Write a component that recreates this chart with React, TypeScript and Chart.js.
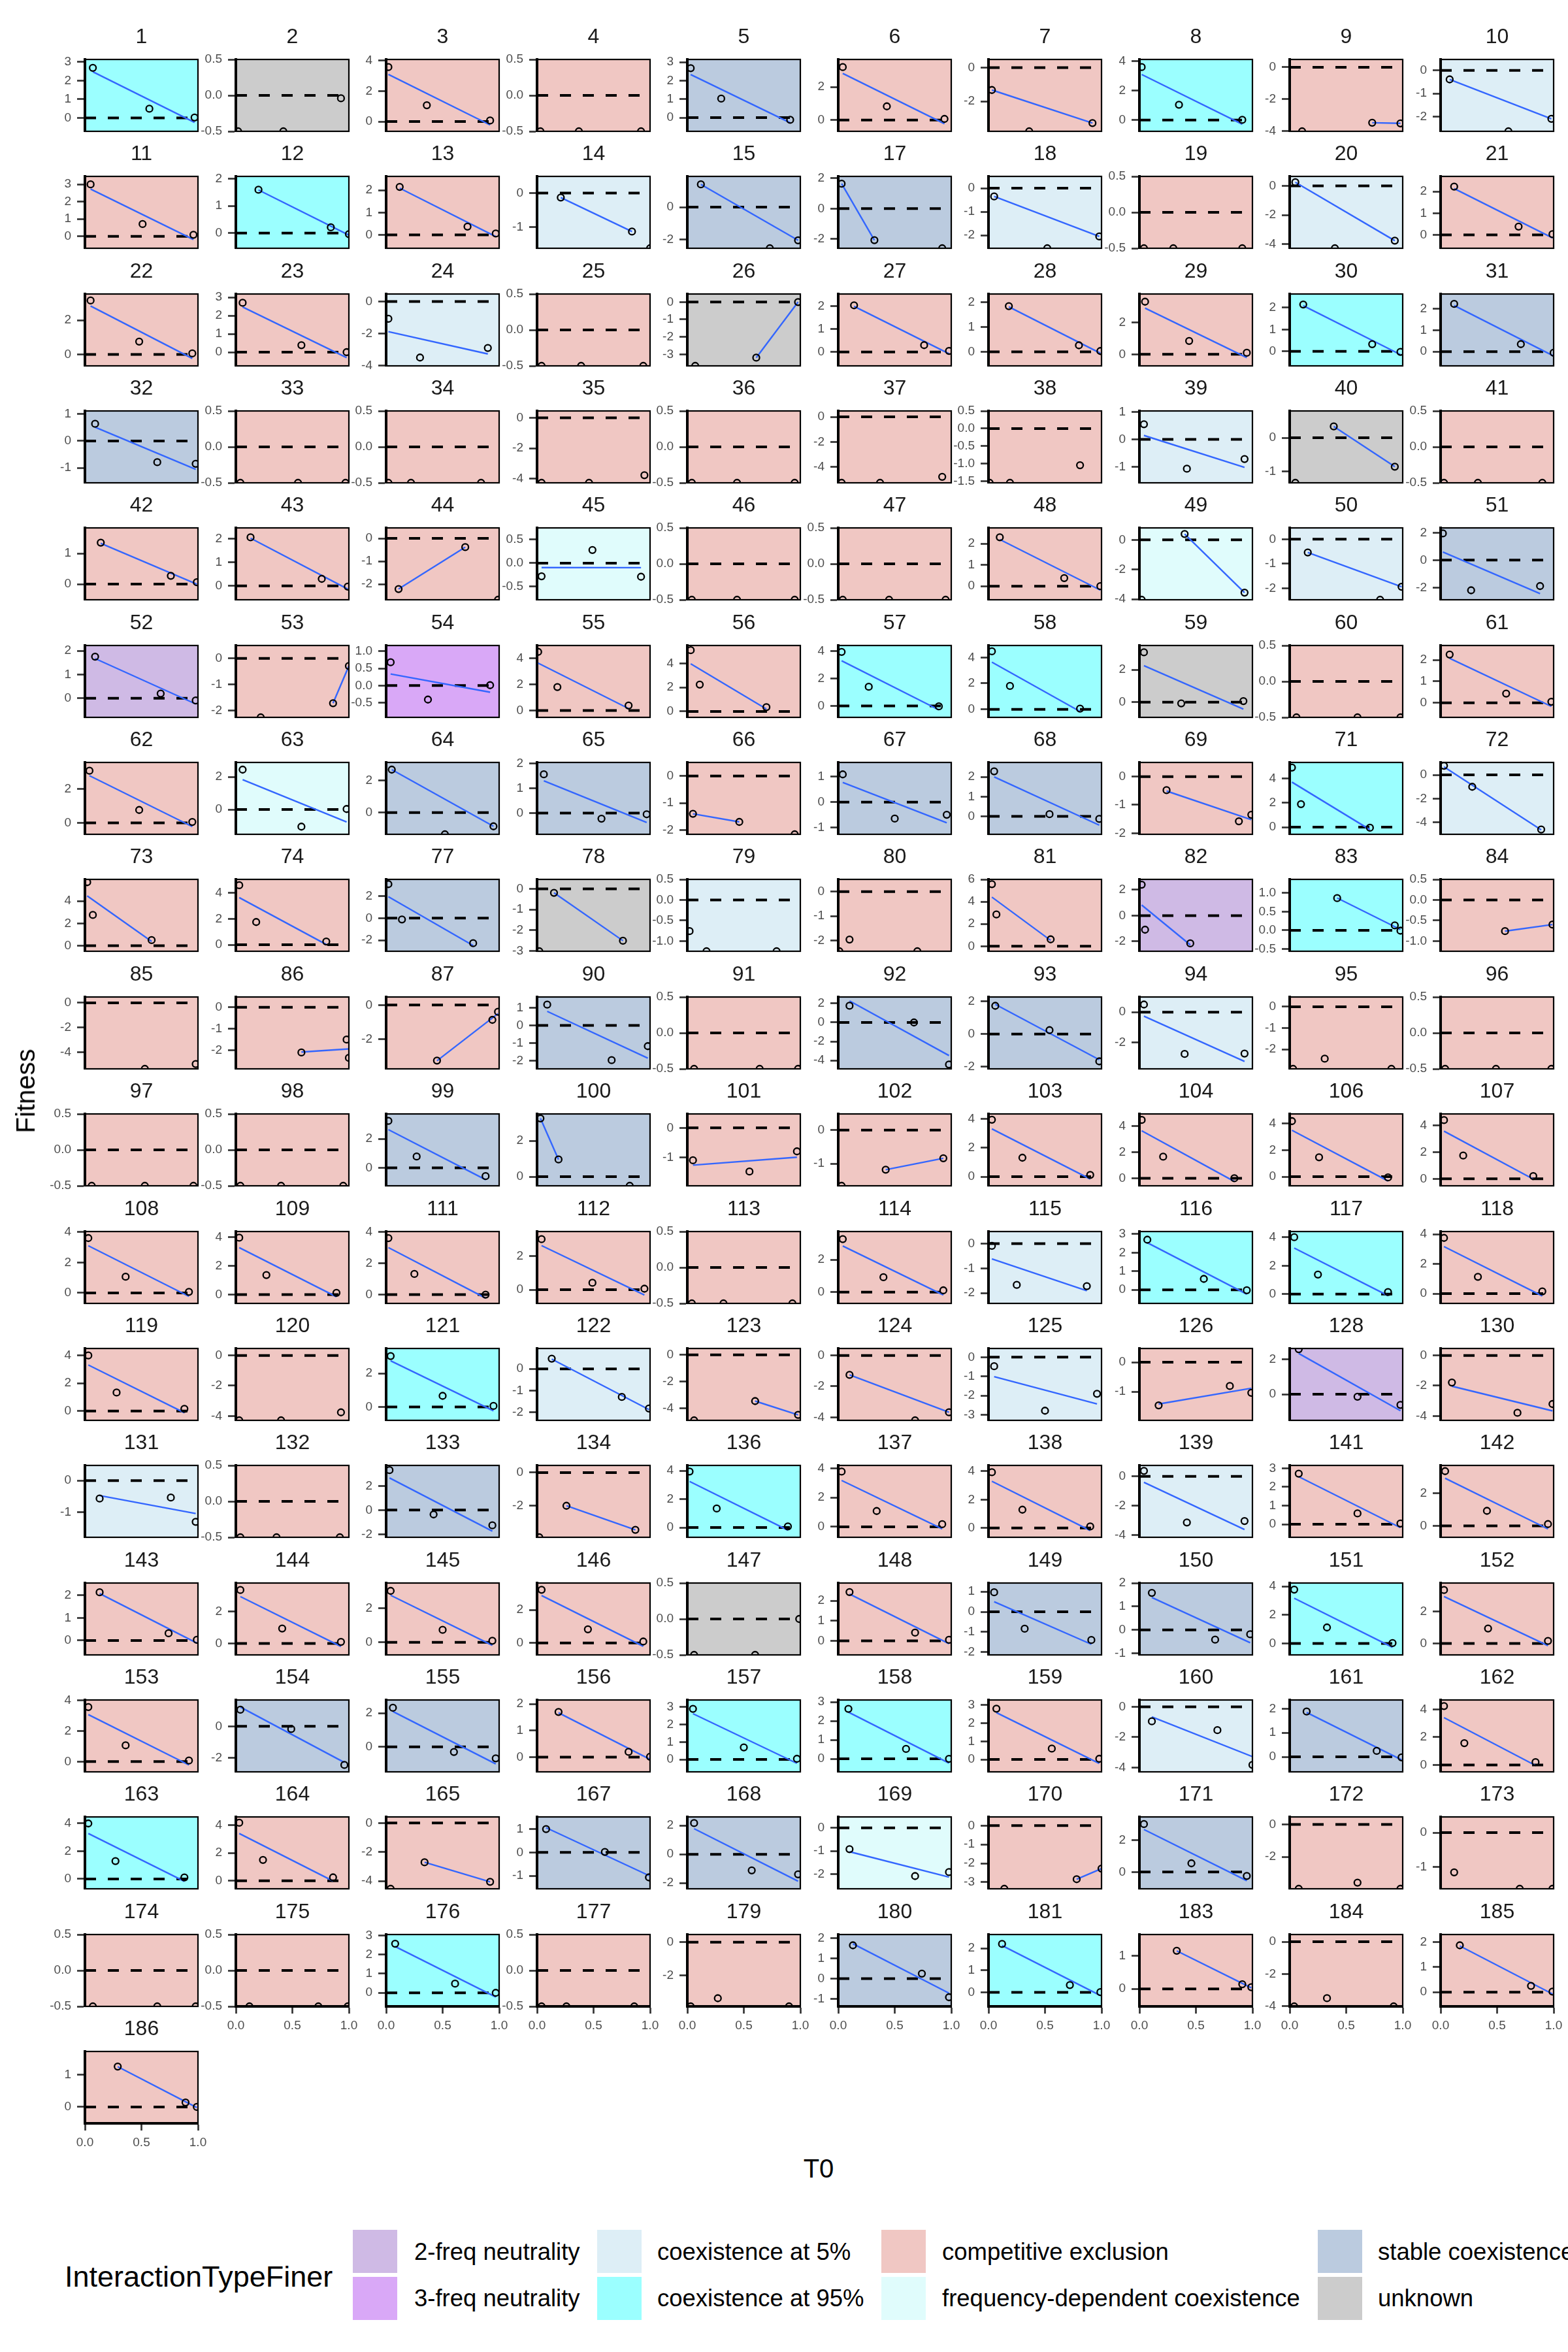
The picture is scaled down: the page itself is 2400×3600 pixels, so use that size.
import React, { useEffect, useRef } from "react";
import { Chart, registerables } from "chart.js";

Chart.register(...registerables);

const FONT = '"Liberation Sans", Arial, Helvetica, sans-serif';
Chart.defaults.font.family = FONT;

// ---------- interaction types ----------
const typeCodes = "ABCDEFGH";
const typeNames = [
  "2-freq neutrality",
  "3-freq neutrality",
  "coexistence at 5%",
  "coexistence at 95%",
  "competitive exclusion",
  "frequency-dependent coexistence",
  "stable coexistence",
  "unknown",
];
const typeColors = [
  "#CFBAE5",
  "#D9A8F7",
  "#DDEEF6",
  "#9BFFFF",
  "#F0C7C3",
  "#E0FCFC",
  "#BBCBDF",
  "#CCCCCC",
];

// ---------- panels ----------
const panelIds = [
  1, 2, 3, 4, 5, 6, 7, 8, 9, 10,
  11, 12, 13, 14, 15, 17, 18, 19, 20, 21,
  22, 23, 24, 25, 26, 27, 28, 29, 30, 31,
  32, 33, 34, 35, 36, 37, 38, 39, 40, 41,
  42, 43, 44, 45, 46, 47, 48, 49, 50, 51,
  52, 53, 54, 55, 56, 57, 58, 59, 60, 61,
  62, 63, 64, 65, 66, 67, 68, 69, 71, 72,
  73, 74, 77, 78, 79, 80, 81, 82, 83, 84,
  85, 86, 87, 90, 91, 92, 93, 94, 95, 96,
  97, 98, 99, 100, 101, 102, 103, 104, 106, 107,
  108, 109, 111, 112, 113, 114, 115, 116, 117, 118,
  119, 120, 121, 122, 123, 124, 125, 126, 128, 130,
  131, 132, 133, 134, 136, 137, 138, 139, 141, 142,
  143, 144, 145, 146, 147, 148, 149, 150, 151, 152,
  153, 154, 155, 156, 157, 158, 159, 160, 161, 162,
  163, 164, 165, 167, 168, 169, 170, 171, 172, 173,
  174, 175, 176, 177, 179, 180, 181, 183, 184, 185,
  186,
];

const panelTypes =
  "DHEEGEEDEC" + "EDECGGCECE" + "EECEHEEEDG" + "GEEEEEECHE" + "EEEFEEEFCG" +
  "AEBEEDDHEE" + "EFGGEGGEDC" + "EEGHCEEADE" + "EEEGEGGCEE" + "EEGGEEEEEE" +
  "EEEEEECDDE" + "EEDCEECEAE" + "CEGEDEECEE" + "EEEEHEGGDE" + "EGGEDDECGE" +
  "DEEGGFEGEE" + "EEDEEGDEEE" + "E";

const yMin = [
  -0.72, -0.5, -0.64, -0.5, -0.74, -0.68, -3.78, -0.77, -4.02, -2.63,
  -0.69, -0.56, -0.6, -1.62, -2.53, -2.6, -2.55, -0.5, -4.27, -0.62,
  -0.67, -0.75, -4.02, -0.5, -3.66, -0.6, -0.57, -0.72, -0.66, -0.66,
  -1.56, -0.5, -0.5, -4.26, -0.5, -5.26, -1.54, -1.57, -1.34, -0.5,
  -0.51, -0.59, -2.68, -0.78, -0.5, -0.5, -0.64, -4.04, -2.47, -2.89,
  -0.8, -2.25, -0.93, -0.53, -0.49, -0.83, -0.62, -0.93, -0.5, -0.68,
  -0.68, -1.52, -1.36, -0.86, -2.16, -1.27, -0.91, -2.04, -0.59, -5.0,
  -0.5, -0.5, -3.0, -3.02, -1.25, -2.44, -0.45, -2.76, -0.56, -1.25,
  -5.32, -2.86, -3.71, -2.45, -0.5, -4.88, -2.13, -3.77, -2.92, -0.5,
  -0.5, -0.5, -1.24, -0.51, -1.95, -1.66, -0.63, -0.58, -0.68, -0.52,
  -0.69, -0.61, -0.56, -0.81, -0.5, -0.7, -2.42, -0.73, -0.65, -0.66,
  -0.67, -4.29, -0.8, -2.38, -4.9, -4.2, -3.28, -1.98, -1.5, -4.29,
  -1.8, -0.5, -2.25, -3.9, -0.69, -0.72, -0.65, -4.15, -0.7, -0.7,
  -0.64, -0.72, -0.74, -0.72, -0.5, -0.7, -2.14, -1.07, -0.8, -0.72,
  -0.67, -2.9, -1.48, -0.55, -0.71, -0.69, -0.68, -4.29, -0.62, -0.5,
  -0.71, -0.58, -4.54, -1.56, -2.4, -2.63, -3.35, -1.06, -3.97, -1.64,
  -0.5, -0.5, -0.71, -0.5, -3.86, -1.36, -0.64, -0.53, -4.02, -0.57,
  -0.51,
];

const yMax = [
  3.13, 0.5, 4.07, 0.5, 3.15, 3.66, 0.48, 4.12, 0.49, 0.47,
  3.46, 2.08, 2.62, 0.49, 1.89, 2.11, 0.5, 0.5, 0.65, 2.7,
  3.53, 3.18, 0.47, 0.5, 0.46, 2.52, 2.33, 3.77, 2.62, 2.68,
  1.12, 0.5, 0.5, 0.45, 0.5, 0.47, 0.5, 1.03, 0.8, 0.5,
  1.83, 2.47, 0.46, 0.75, 0.5, 0.5, 2.74, 0.81, 0.46, 2.35,
  2.22, 0.49, 1.17, 4.99, 5.49, 4.41, 4.92, 3.49, 0.5, 2.67,
  3.57, 2.88, 3.13, 2.04, 0.5, 1.56, 2.73, 0.5, 5.32, 1.05,
  5.95, 5.03, 3.51, 0.46, 0.5, 0.5, 6.0, 2.81, 1.36, 0.5,
  0.47, 0.48, 0.47, 1.6, 0.5, 2.68, 2.27, 1.01, 0.46, 0.5,
  0.5, 0.5, 3.72, 3.5, 0.47, 0.48, 4.33, 4.92, 4.71, 4.85,
  4.03, 4.4, 4.03, 3.44, 0.5, 3.75, 0.49, 3.14, 4.4, 4.18,
  4.5, 0.46, 3.48, 0.94, 0.47, 0.45, 0.45, 0.47, 2.63, 0.46,
  0.48, 0.5, 3.69, 0.43, 4.38, 4.2, 4.4, 0.74, 3.15, 3.7,
  2.55, 3.8, 3.48, 3.63, 0.5, 2.88, 1.43, 2.0, 4.23, 3.8,
  4.02, 1.68, 2.78, 2.15, 3.41, 3.11, 3.28, 0.45, 2.36, 4.68,
  4.47, 4.58, 0.42, 1.52, 2.6, 0.47, 0.46, 3.48, 0.46, 0.46,
  0.5, 0.5, 3.05, 0.5, 0.46, 2.17, 2.63, 1.64, 0.45, 2.3,
  1.73,
];

const yStep = [
  1, 0.5, 2, 0.5, 1, 2, 2, 2, 2, 1,
  1, 1, 1, 1, 2, 2, 1, 0.5, 2, 1,
  2, 1, 2, 0.5, 1, 1, 1, 2, 1, 1,
  1, 0.5, 0.5, 2, 0.5, 2, 0.5, 1, 1, 0.5,
  1, 1, 1, 0.5, 0.5, 0.5, 1, 2, 1, 2,
  1, 1, 0.5, 2, 2, 2, 2, 2, 0.5, 1,
  2, 2, 2, 1, 1, 1, 1, 1, 2, 2,
  2, 2, 2, 1, 0.5, 1, 2, 2, 0.5, 0.5,
  2, 1, 2, 1, 0.5, 2, 2, 2, 1, 0.5,
  0.5, 0.5, 2, 2, 1, 1, 2, 2, 2, 2,
  2, 2, 2, 2, 0.5, 2, 1, 1, 2, 2,
  2, 2, 2, 1, 2, 2, 1, 1, 2, 2,
  1, 0.5, 2, 2, 2, 2, 2, 2, 1, 2,
  1, 2, 2, 2, 0.5, 1, 1, 1, 2, 2,
  2, 2, 2, 1, 1, 1, 1, 2, 1, 2,
  2, 2, 2, 1, 2, 1, 1, 2, 2, 1,
  0.5, 0.5, 1, 0.5, 2, 1, 1, 1, 2, 1,
  1,
];

const xTickValues = [0, 0.5, 1];

// -Infinity fitness values sit on the lower panel edge
const NI = -Infinity;

// [T0, Fitness] per panel
const panelPoints: number[][][] = [
  [[.07, 2.68], [.57, .49], [.97, .02]],
  [[.02, NI], [.42, NI], [.93, -.04]],
  [[.02, 3.57], [.36, 1.07], [.92, .07]],
  [[.03, NI], [.37, NI], [.92, NI]],
  [[.03, 2.68], [.3, 1.03], [.91, -.12]],
  [[.04, 3.2], [.43, .83], [.94, .07]],
  [[.03, -1.33], [.36, NI], [.92, -3.29]],
  [[.02, 3.6], [.35, 1.04], [.91, .01]],
  [[.11, NI], [.73, -3.48], [.98, -3.52]],
  [[.08, -.39], [.6, NI], [.98, -2.09]],

  [[.05, 3.0], [.51, .71], [.96, .09]],
  [[.2, 1.59], [.84, .21], [1, -.04]],
  [[.12, 2.15], [.72, .37], [.97, .06]],
  [[.21, -.13], [.84, -1.13], [1, NI]],
  [[.12, 1.4], [.73, NI], [.98, -2.04]],
  [[.03, 1.63], [.32, -2.07], [.92, NI]],
  [[.05, -.35], [.52, NI], [.98, -2.05]],
  [[.04, NI], [.3, NI], [.91, NI]],
  [[.05, .25], [.4, NI], [.93, -3.75]],
  [[.12, 2.23], [.69, .38], [.99, .03]],

  [[.05, 3.15], [.48, .75], [.95, .06]],
  [[.06, 2.7], [.58, .38], [.98, 0]],
  [[.02, -1.08], [.3, -3.5], [.9, -2.9]],
  [[.04, NI], [.39, NI], [.94, NI]],
  [[.07, NI], [.61, -3.19], [.98, 0]],
  [[.14, 2.03], [.76, .3], [.98, .05]],
  [[.18, 1.84], [.8, .26], [.99, .03]],
  [[.05, 3.29], [.44, .84], [.95, .1]],
  [[.12, 2.14], [.73, .33], [.98, -.02]],
  [[.12, 2.22], [.71, .35], [1, -.05]],

  [[.09, .64], [.64, -.79], [.98, -.85]],
  [[.04, NI], [.55, NI], [.97, NI]],
  [[.02, NI], [.22, NI], [.84, NI]],
  [[.04, NI], [.46, NI], [.95, -3.76]],
  [[.04, NI], [.44, NI], [.95, NI]],
  [[.03, NI], [.37, NI], [.92, -4.78]],
  [[.01, NI], [.19, NI], [.81, -1.04]],
  [[.04, .55], [.42, -1.06], [.93, -.71]],
  [[.05, NI], [.39, .34], [.93, -.86]],
  [[.03, NI], [.33, NI], [.9, NI]],

  [[.14, 1.35], [.76, .27], [.99, .06]],
  [[.13, 2.07], [.76, .3], [.99, -.03]],
  [[.11, -2.21], [.7, -.38], [.99, NI]],
  [[.04, -.28], [.49, .28], [.92, -.29]],
  [[.04, NI], [.44, NI], [.95, NI]],
  [[.04, NI], [.45, NI], [.95, NI]],
  [[.1, 2.3], [.67, .38], [.99, 0]],
  [[.02, NI], [.4, .4], [.93, -3.56]],
  [[.16, -.54], [.8, NI], [.99, -1.94]],
  [[.02, 1.95], [.27, -2.2], [.88, -1.89]],

  [[.09, 1.75], [.67, .2], [.98, -.09]],
  [[.22, NI], [.86, -1.71], [1, -.29]],
  [[.04, .68], [.37, -.41], [.92, .01]],
  [[.01, 4.5], [.18, 1.8], [.81, .38]],
  [[.03, 5.1], [.11, 2.24], [.7, .36]],
  [[.03, 3.94], [.27, 1.4], [.89, -.03]],
  [[.03, 4.47], [.19, 1.8], [.81, .05]],
  [[.04, 3.07], [.37, -.07], [.92, .07]],
  [[.06, NI], [.6, NI], [.98, NI]],
  [[.08, 2.25], [.58, .43], [.98, .05]],

  [[.04, 3.08], [.48, .76], [.95, .05]],
  [[.06, 2.44], [.58, -1.05], [.98, .03]],
  [[.05, 2.68], [.52, NI], [.95, -.86]],
  [[.06, 1.56], [.57, -.23], [.97, -.05]],
  [[.05, -1.4], [.46, -1.7], [.95, NI]],
  [[.04, 1.09], [.5, -.65], [.96, -.5]],
  [[.05, 2.28], [.54, .11], [.98, -.13]],
  [[.24, -.48], [.88, -1.58], [.99, -1.35]],
  [[.02, 4.9], [.1, 1.89], [.71, -.05]],
  [[.03, .77], [.28, -1.0], [.89, -4.59]],

  [[.02, 5.7], [.07, 2.76], [.59, .5]],
  [[.03, 4.58], [.18, 1.75], [.8, .25]],
  [[.02, 3.08], [.14, -.12], [.77, -2.27]],
  [[.02, NI], [.15, -.19], [.76, -2.51]],
  [[.02, -.76], [.17, NI], [.79, NI]],
  [[.01, NI], [.1, -1.96], [.7, NI]],
  [[.03, 5.57], [.07, 2.85], [.55, .62]],
  [[.02, 2.4], [.05, -1.09], [.45, -2.15]],
  [[.42, .86], [.93, .13], [.98, -.01]],
  [[.57, -.76], [.99, -.6]],

  [[.53, NI], [.98, -4.93]],
  [[.58, -2.1], [.98, -1.5], [1, -2.35]],
  [[.45, -3.23], [.94, -.86], [.99, -.39]],
  [[.09, 1.17], [.66, -1.96], [.98, -1.17]],
  [[.06, NI], [.64, NI], [.98, NI]],
  [[.1, 1.76], [.67, 0], [.98, -4.42]],
  [[.06, 1.73], [.54, .24], [.98, -1.67]],
  [[.04, .51], [.4, -2.78], [.93, -2.75]],
  [[.03, NI], [.31, -2.44], [.9, NI]],
  [[.04, NI], [.49, NI], [.98, NI]],

  [[.06, NI], [.53, NI], [.96, NI]],
  [[.04, NI], [.4, NI], [.95, NI]],
  [[.02, 3.24], [.27, .78], [.88, -.57]],
  [[.03, 3.25], [.19, .96], [.82, NI]],
  [[.05, -1.09], [.55, -1.47], [.97, -.79]],
  [[.03, NI], [.42, -1.18], [.93, -.84]],
  [[.03, 3.93], [.3, 1.31], [.9, .12]],
  [[.02, 4.46], [.21, 1.65], [.84, 0]],
  [[.02, 4.17], [.26, 1.46], [.87, -.05]],
  [[.03, 4.39], [.2, 1.74], [.82, .21]],

  [[.03, 3.6], [.36, 1.06], [.92, .07]],
  [[.03, 3.97], [.27, 1.37], [.89, .12]],
  [[.02, 3.61], [.25, 1.32], [.88, 0]],
  [[.04, 2.99], [.49, .41], [.95, .06]],
  [[.04, NI], [.32, NI], [.93, NI]],
  [[.04, 3.28], [.4, .92], [.93, .11]],
  [[.03, -.09], [.25, -1.67], [.87, -1.72]],
  [[.07, 2.7], [.57, .59], [.95, -.02]],
  [[.04, 4.0], [.25, 1.38], [.87, .15]],
  [[.03, 3.75], [.33, 1.13], [.9, .15]],

  [[.03, 4.0], [.28, 1.33], [.88, .16]],
  [[.03, NI], [.4, NI], [.93, -3.76]],
  [[.04, 3.03], [.5, .66], [.95, .06]],
  [[.13, .47], [.75, -1.3], [.99, -1.83]],
  [[.06, NI], [.6, -3.46], [.98, -4.49]],
  [[.1, -1.26], [.68, NI], [.98, -3.68]],
  [[.05, -.47], [.5, -2.78], [.96, -1.9]],
  [[.17, -1.47], [.8, -.81], [.99, -1.04]],
  [[.08, 2.59], [.6, -.14], [.98, -.61]],
  [[.1, -1.79], [.68, -3.79], [.99, -3.21]],

  [[.13, -.57], [.76, -.54], [.98, -1.31]],
  [[.04, NI], [.36, NI], [.92, NI]],
  [[.03, 3.3], [.42, -.36], [.94, -1.26]],
  [[.02, NI], [.26, -2.0], [.87, -3.45]],
  [[.02, 3.95], [.26, 1.34], [.89, .08]],
  [[.03, 3.78], [.34, 1.08], [.92, .18]],
  [[.03, 3.92], [.3, 1.29], [.9, .11]],
  [[.04, .37], [.42, -3.14], [.93, -3.04]],
  [[.08, 2.71], [.6, .58], [.98, .04]],
  [[.04, 3.35], [.41, .92], [.95, .11]],

  [[.13, 2.14], [.74, .32], [.99, .03]],
  [[.04, 3.36], [.41, .94], [.93, .1]],
  [[.04, 3.02], [.5, .73], [.94, .09]],
  [[.04, 3.22], [.45, .83], [.94, .09]],
  [[.06, NI], [.6, NI], [.99, 0]],
  [[.1, 2.43], [.68, .41], [.98, .05]],
  [[.05, .97], [.32, -.84], [.91, -1.4]],
  [[.11, 1.58], [.67, -.42], [.98, -.19]],
  [[.04, 3.77], [.33, 1.12], [.91, .03]],
  [[.03, 3.36], [.42, .94], [.95, .16]],

  [[.03, 3.56], [.36, 1.06], [.92, .07]],
  [[.04, 1.06], [.49, -.17], [.96, -2.46]],
  [[.06, 2.32], [.6, -.3], [.97, -.68]],
  [[.19, 1.7], [.81, .2], [1, .02]],
  [[.05, 2.9], [.5, .69], [.97, .04]],
  [[.09, 2.64], [.6, .52], [.98, 0]],
  [[.07, 2.8], [.56, .6], [.98, .04]],
  [[.11, -.96], [.69, -1.54], [1, -3.83]],
  [[.15, 1.88], [.77, .25], [.99, -.02]],
  [[.03, 4.24], [.21, 1.57], [.84, .2]],

  [[.03, 4.0], [.27, 1.29], [.88, .11]],
  [[.03, 4.16], [.24, 1.49], [.86, .24]],
  [[.04, NI], [.34, -2.71], [.92, -4.06]],
  [[.08, 1.0], [.6, .02], [.99, -1.07]],
  [[.06, 2.17], [.57, -1.12], [.98, -1.39]],
  [[.1, -.92], [.68, -2.08], [.98, -1.91]],
  [[.14, NI], [.78, -2.84], [1, -2.28]],
  [[.04, 3.03], [.46, .55], [.95, -.25]],
  [[.08, NI], [.6, -3.59], [.98, NI]],
  [[.12, -1.16], [.7, NI], [.99, NI]],

  [[.07, NI], [.64, NI], [.98, NI]],
  [[.12, NI], [.73, NI], [.99, NI]],
  [[.08, 2.57], [.61, .48], [.97, 0]],
  [[.04, NI], [.26, NI], [.86, NI]],
  [[.03, NI], [.27, -3.37], [.9, NI]],
  [[.13, 1.64], [.74, .25], [.98, -.91]],
  [[.12, 2.2], [.72, .33], [.99, .01]],
  [[.33, 1.15], [.91, .14], [.99, .05]],
  [[.04, NI], [.33, -3.51], [.92, NI]],
  [[.17, 1.87], [.8, .25], [.99, .02]],

  [[.29, 1.26], [.89, .14], [.99, 0]],
];

// ---------- layout ----------
const NCOL = 10;
const PANEL_W = 173;
const PANEL_H = 110;
const COL0 = 130;
const COL_PITCH = 230.5;
const ROW0 = 91;
const ROW_PITCH = 179.35;
const PAD_L = 70;
const PAD_T = 60;
const PAD_R = 24;
const PAD_B = 60;

function makeTicks(min: number, max: number, step: number) {
  const out: number[] = [];
  const k0 = Math.ceil(min / step - 1e-6);
  const k1 = Math.floor(max / step + 1e-6);
  for (let k = k0; k <= k1; k++) out.push(Math.round(k * step * 1000) / 1000);
  return out;
}

function fmtTick(v: number, step: number) {
  if (step < 1) return (Math.abs(v) < 1e-9 ? 0 : v).toFixed(1);
  return String(Math.round(v) === 0 ? 0 : Math.round(v));
}

function fitLine(pts: number[][]) {
  const f = pts.filter((p) => Number.isFinite(p[1]));
  if (f.length < 2) return null;
  const n = f.length;
  const mx = f.reduce((s, p) => s + p[0], 0) / n;
  const my = f.reduce((s, p) => s + p[1], 0) / n;
  let sxx = 0;
  let sxy = 0;
  for (const p of f) {
    sxx += (p[0] - mx) * (p[0] - mx);
    sxy += (p[0] - mx) * (p[1] - my);
  }
  const b = sxx > 0 ? sxy / sxx : 0;
  const a = my - b * mx;
  const xs = f.map((p) => p[0]);
  const x0 = Math.min(...xs);
  const x1 = Math.max(...xs);
  return [
    { x: x0, y: a + b * x0 },
    { x: x1, y: a + b * x1 },
  ];
}

function Panel({ index }: { index: number }) {
  const ref = useRef<HTMLCanvasElement | null>(null);
  const row = Math.floor(index / NCOL);
  const col = index % NCOL;
  const left = Math.round(COL0 + col * COL_PITCH) - PAD_L;
  const top = Math.round(ROW0 + row * ROW_PITCH) - PAD_T;
  const w = PAD_L + PANEL_W + PAD_R;
  const h = PAD_T + PANEL_H + PAD_B;
  const isBottom = index + NCOL >= panelIds.length;

  useEffect(() => {
    const canvas = ref.current;
    if (!canvas) return;
    const min = yMin[index];
    const max = yMax[index];
    const step = yStep[index];
    const raw = panelPoints[index];
    const pts = raw.map((p) => ({ x: p[0], y: Number.isFinite(p[1]) ? p[1] : min }));
    const fit = fitLine(raw);
    const fill = typeColors[typeCodes.indexOf(panelTypes[index])];
    const label = String(panelIds[index]);

    const datasets: any[] = [
      {
        data: pts,
        showLine: false,
        pointRadius: 5,
        pointHoverRadius: 5,
        pointBorderWidth: 2.3,
        pointBorderColor: "#000000",
        pointBackgroundColor: "rgba(0,0,0,0)",
        clip: 0,
      },
    ];
    if (fit) {
      datasets.push({
        data: fit,
        showLine: true,
        borderColor: "#3366FF",
        borderWidth: 2.4,
        pointRadius: 0,
        clip: 0,
      });
    }
    datasets.push({
      data: [
        { x: 0, y: 0 },
        { x: 1, y: 0 },
      ],
      showLine: true,
      borderColor: "#000000",
      borderWidth: 4,
      borderDash: [17, 18],
      borderCapStyle: "butt",
      pointRadius: 0,
      clip: 0,
    });

    const decor = {
      id: "panelDecor",
      beforeDraw(chart: any) {
        const { ctx, chartArea: a } = chart;
        ctx.save();
        ctx.fillStyle = fill;
        ctx.fillRect(a.left, a.top, a.right - a.left, a.bottom - a.top);
        ctx.restore();
      },
      afterDraw(chart: any) {
        const { ctx, chartArea: a } = chart;
        ctx.save();
        ctx.strokeStyle = "#000000";
        ctx.lineWidth = 2.2;
        ctx.strokeRect(a.left, a.top, a.right - a.left, a.bottom - a.top);
        ctx.fillStyle = "#1A1A1A";
        ctx.font = `32px ${FONT}`;
        ctx.textAlign = "center";
        ctx.textBaseline = "middle";
        ctx.fillText(label, (a.left + a.right) / 2, a.top - 34);
        ctx.restore();
      },
    };

    const tickGrid = (len: number) => ({
      display: true,
      drawOnChartArea: false,
      drawTicks: true,
      tickLength: len,
      tickWidth: 2.7,
      tickColor: "#333333",
      color: "#333333",
    });

    const chart = new Chart(canvas, {
      type: "scatter",
      data: { datasets },
      options: {
        responsive: false,
        animation: false,
        events: [],
        layout: { padding: { left: 0, top: PAD_T, right: PAD_R, bottom: isBottom ? 0 : PAD_B } },
        plugins: {
          legend: { display: false },
          tooltip: { enabled: false },
          title: { display: false },
        },
        scales: {
          x: {
            type: "linear",
            min: 0,
            max: 1,
            display: isBottom,
            afterFit: (s: any) => {
              s.height = isBottom ? PAD_B : 0;
            },
            afterBuildTicks: (axis: any) => {
              axis.ticks = xTickValues.map((v) => ({ value: v }));
            },
            ticks: {
              autoSkip: false,
              maxRotation: 0,
              minRotation: 0,
              padding: 7,
              color: "#4D4D4D",
              font: { family: FONT, size: 19 },
              callback: (v: any) => Number(v).toFixed(1),
            },
            grid: tickGrid(11),
            border: { display: true, color: "#000000", width: 4 },
          },
          y: {
            type: "linear",
            min,
            max,
            afterFit: (s: any) => {
              s.width = PAD_L;
            },
            afterBuildTicks: (axis: any) => {
              axis.ticks = makeTicks(min, max, step).map((v) => ({ value: v }));
            },
            ticks: {
              autoSkip: false,
              padding: 9,
              color: "#4D4D4D",
              font: { family: FONT, size: 19 },
              callback: (v: any) => fmtTick(Number(v), step),
            },
            grid: tickGrid(12),
            border: { display: true, color: "#000000", width: 4 },
          },
        },
      } as any,
      plugins: [decor],
    });
    return () => chart.destroy();
  }, [index, isBottom]);

  return (
    <canvas
      ref={ref}
      width={w}
      height={h}
      style={{ position: "absolute", left, top, width: w, height: h }}
    />
  );
}

// legend arrangement: two rows, filled by column
const legendKeyLefts = [540, 914, 1349, 2017];
const legendLabelLefts = [634, 1006, 1442, 2109];
const legendKeyTops = [3413, 3485];
const legendLabelCenters = [3447, 3518];

export default function App() {
  useEffect(() => {
    document.body.style.margin = "0";
  }, []);

  return (
    <div
      style={{
        position: "relative",
        width: 2400,
        height: 3600,
        overflow: "hidden",
        background: "#ffffff",
        fontFamily: FONT,
      }}
    >
      {panelIds.map((id, i) => (
        <Panel key={id} index={i} />
      ))}

      <div
        style={{
          position: "absolute",
          left: 39,
          top: 1670,
          transform: "translate(-50%, -50%) rotate(-90deg)",
          fontSize: 40,
          lineHeight: 1,
          color: "#000",
          whiteSpace: "nowrap",
        }}
      >
        Fitness
      </div>
      <div
        style={{
          position: "absolute",
          left: 1253,
          top: 3319,
          transform: "translate(-50%, -50%)",
          fontSize: 40,
          lineHeight: 1,
          color: "#000",
          whiteSpace: "nowrap",
        }}
      >
        T0
      </div>

      <div
        style={{
          position: "absolute",
          left: 99,
          top: 3484,
          transform: "translateY(-50%)",
          fontSize: 45,
          lineHeight: 1,
          color: "#000",
          whiteSpace: "nowrap",
        }}
      >
        InteractionTypeFiner
      </div>
      {typeNames.map((name, k) => {
        const c = Math.floor(k / 2);
        const r = k % 2;
        return (
          <React.Fragment key={name}>
            <div
              style={{
                position: "absolute",
                left: legendKeyLefts[c],
                top: legendKeyTops[r],
                width: 68,
                height: 66,
                background: typeColors[k],
              }}
            />
            <div
              style={{
                position: "absolute",
                left: legendLabelLefts[c],
                top: legendLabelCenters[r],
                transform: "translateY(-50%)",
                fontSize: 36.5,
                lineHeight: 1,
                color: "#000",
                whiteSpace: "nowrap",
              }}
            >
              {name}
            </div>
          </React.Fragment>
        );
      })}
    </div>
  );
}
